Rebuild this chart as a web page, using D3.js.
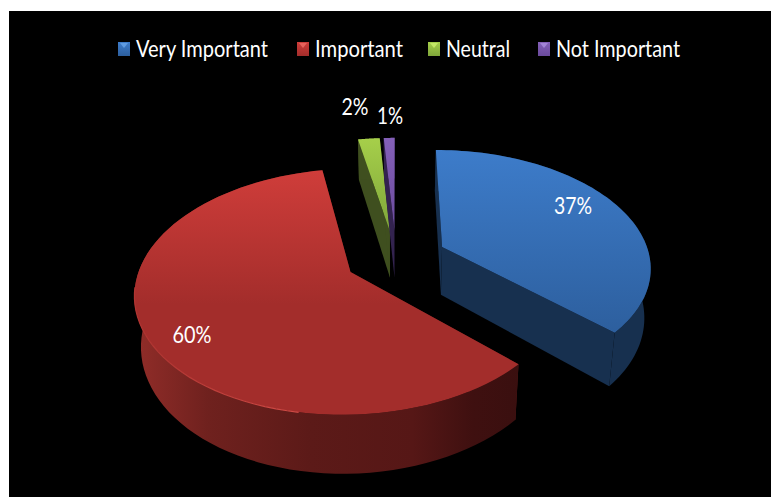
<!DOCTYPE html>
<html>
<head>
<meta charset="utf-8">
<script src="https://cdn.jsdelivr.net/npm/d3@7"></script>
<style>
html, body { margin: 0; padding: 0; background: #fff; }
svg { display: block; }
text { font-family: Lato, "Open Sans", sans-serif; fill: #fff; }
</style>
</head>
<body>
<script>
var categories = ['Very Important', 'Important', 'Neutral', 'Not Important'];
var percents = [37, 60, 2, 1];
var percentLabels = ['37%', '60%', '2%', '1%'];

var topLight = ['#3d7cca', '#cf3d3a', '#a6cf4a', '#8460b8'];
var topDark = ['#2d5f9e', '#a32d2b', '#7fa63a', '#6a4a9c'];
var wallColor = ['#17304f', '#5a1917', '#3f4f1f', '#33234f'];
var markerTip = ['#5f9be0', '#e8625c', '#c4e866', '#a284d6'];

var width = 771, height = 497;
var cx = 396, cy = 258;       // pie centre on the top plane
var rx = 208, horizonDist = 731, persp = 0.158;
var explode = 0.245, depth = 48.5;

var svg = d3.select('body').append('svg')
    .attr('width', width)
    .attr('height', height);

svg.append('rect')
    .attr('x', 9).attr('y', 11)
    .attr('width', width - 9).attr('height', height - 11)
    .attr('fill', '#000');

var defs = svg.append('defs');

// x,y on the unit disc -> screen, with a simple perspective
function project(wx, wz, bottom) {
    var s = 1 / (1 + persp * wz);
    var x = rx * wx * s;
    var y = cy - horizonDist + horizonDist * s;
    if (bottom) {
        x = x * 0.975;
        y = y + depth * s;
    }
    return [cx + x, y];
}

var arcs = d3.pie().sort(null).value(function(d) { return d; })(percents);
var line = d3.line();

function slicePoint(d, angle, bottom) {
    var mid = (d.startAngle + d.endAngle) / 2;
    return project(
        explode * Math.sin(mid) + Math.sin(angle),
        explode * Math.cos(mid) + Math.cos(angle),
        bottom
    );
}
function apexPoint(d, bottom) {
    var mid = (d.startAngle + d.endAngle) / 2;
    return project(explode * Math.sin(mid), explode * Math.cos(mid), bottom);
}
function rimAngles(d) {
    return d3.range(0, 81).map(function(i) {
        return d.startAngle + (d.endAngle - d.startAngle) * i / 80;
    });
}

arcs.forEach(function(d, i) {
    var g = defs.append('linearGradient')
        .attr('id', 'top' + i)
        .attr('x1', 0).attr('y1', 0).attr('x2', 0).attr('y2', 1);
    g.append('stop').attr('offset', '0%').attr('stop-color', topLight[i]);
    g.append('stop').attr('offset', i == 1 ? '55%' : '100%').attr('stop-color', topDark[i]);

    var m = defs.append('linearGradient')
        .attr('id', 'marker' + i)
        .attr('x1', 0).attr('y1', 0).attr('x2', 0).attr('y2', 1);
    m.append('stop').attr('offset', '0%').attr('stop-color', topLight[i]);
    m.append('stop').attr('offset', '100%').attr('stop-color', topDark[i]);
});

// side of the red slice gets darker going right
var redWall = defs.append('linearGradient')
    .attr('id', 'redWall')
    .attr('gradientUnits', 'userSpaceOnUse')
    .attr('x1', 140).attr('y1', 0).attr('x2', 518).attr('y2', 0);
[['0%', '#8f2c28'], ['18%', '#6f211e'], ['45%', '#5c1a18'], ['72%', '#561716'], ['88%', '#3f1010'], ['100%', '#3a0f0f']]
    .forEach(function(s) {
        redWall.append('stop').attr('offset', s[0]).attr('stop-color', s[1]);
    });

var rimFade = defs.append('linearGradient')
    .attr('id', 'rimFade')
    .attr('gradientUnits', 'userSpaceOnUse')
    .attr('x1', 140).attr('y1', 0).attr('x2', 420).attr('y2', 0);
rimFade.append('stop').attr('offset', '0%').attr('stop-color', '#b03431');
rimFade.append('stop').attr('offset', '55%').attr('stop-color', '#cf4a45');
rimFade.append('stop').attr('offset', '100%').attr('stop-color', '#a32d2b');

// paint back slices first, red last because it sits in front
var order = [2, 3, 0, 1];
order.forEach(function(i) {
    var d = arcs[i];
    var group = svg.append('g').attr('class', 'slice');
    var angles = rimAngles(d);
    var wallFill = i == 1 ? 'url(#redWall)' : wallColor[i];

    // the two cut walls
    [d.startAngle, d.endAngle].forEach(function(a) {
        var cut = [apexPoint(d, false), slicePoint(d, a, false), slicePoint(d, a, true), apexPoint(d, true)];
        group.append('path').attr('d', line(cut) + 'Z').attr('fill', wallColor[i]);
    });

    // outer wall
    var outer = angles.map(function(a) { return slicePoint(d, a, false); })
        .concat(angles.slice().reverse().map(function(a) { return slicePoint(d, a, true); }));
    group.append('path').attr('d', line(outer) + 'Z').attr('fill', wallFill);

    // top
    var top = [apexPoint(d, false)].concat(angles.map(function(a) { return slicePoint(d, a, false); }));
    group.append('path').attr('d', line(top) + 'Z').attr('fill', 'url(#top' + i + ')');

    if (i == 1) {
        var front = angles.filter(function(a) { return a > 3.3 && a < 4.6; })
            .map(function(a) { return slicePoint(d, a, false); });
        group.append('path')
            .attr('d', line(front))
            .attr('fill', 'none')
            .attr('stroke', 'url(#rimFade)')
            .attr('stroke-width', 1.2);
    }
});

// data labels
var labelPos = [[573, 204], [192, 333], [355, 105], [390, 114]];
var labelW = [38, 39, 27, 26];
svg.selectAll('.pct')
    .data(percentLabels)
    .enter()
    .append('text')
    .attr('class', 'pct')
    .attr('text-anchor', 'middle')
    .attr('dominant-baseline', 'central')
    .attr('font-size', 24)
    .attr('x', function(d, i) { return labelPos[i][0]; })
    .attr('y', function(d, i) { return labelPos[i][1]; })
    .attr('textLength', function(d, i) { return labelW[i]; })
    .attr('lengthAdjust', 'spacingAndGlyphs')
    .text(function(d) { return d; });

// legend
var legendX = [118, 297, 428, 538];
var legendW = [132, 88, 64, 124];
var legend = svg.selectAll('.legend')
    .data(categories)
    .enter()
    .append('g')
    .attr('class', 'legend')
    .attr('transform', function(d, i) { return 'translate(' + legendX[i] + ',42)'; });

legend.append('rect')
    .attr('width', 12).attr('height', 14)
    .attr('fill', function(d, i) { return 'url(#marker' + i + ')'; });
legend.append('path')
    .attr('d', 'M2 1H10L6 6Z')
    .attr('fill', function(d, i) { return markerTip[i]; });
legend.append('text')
    .attr('x', 18)
    .attr('y', 15)
    .attr('font-size', 24)
    .attr('textLength', function(d, i) { return legendW[i]; })
    .attr('lengthAdjust', 'spacingAndGlyphs')
    .text(function(d) { return d; });
</script>
</body>
</html>
